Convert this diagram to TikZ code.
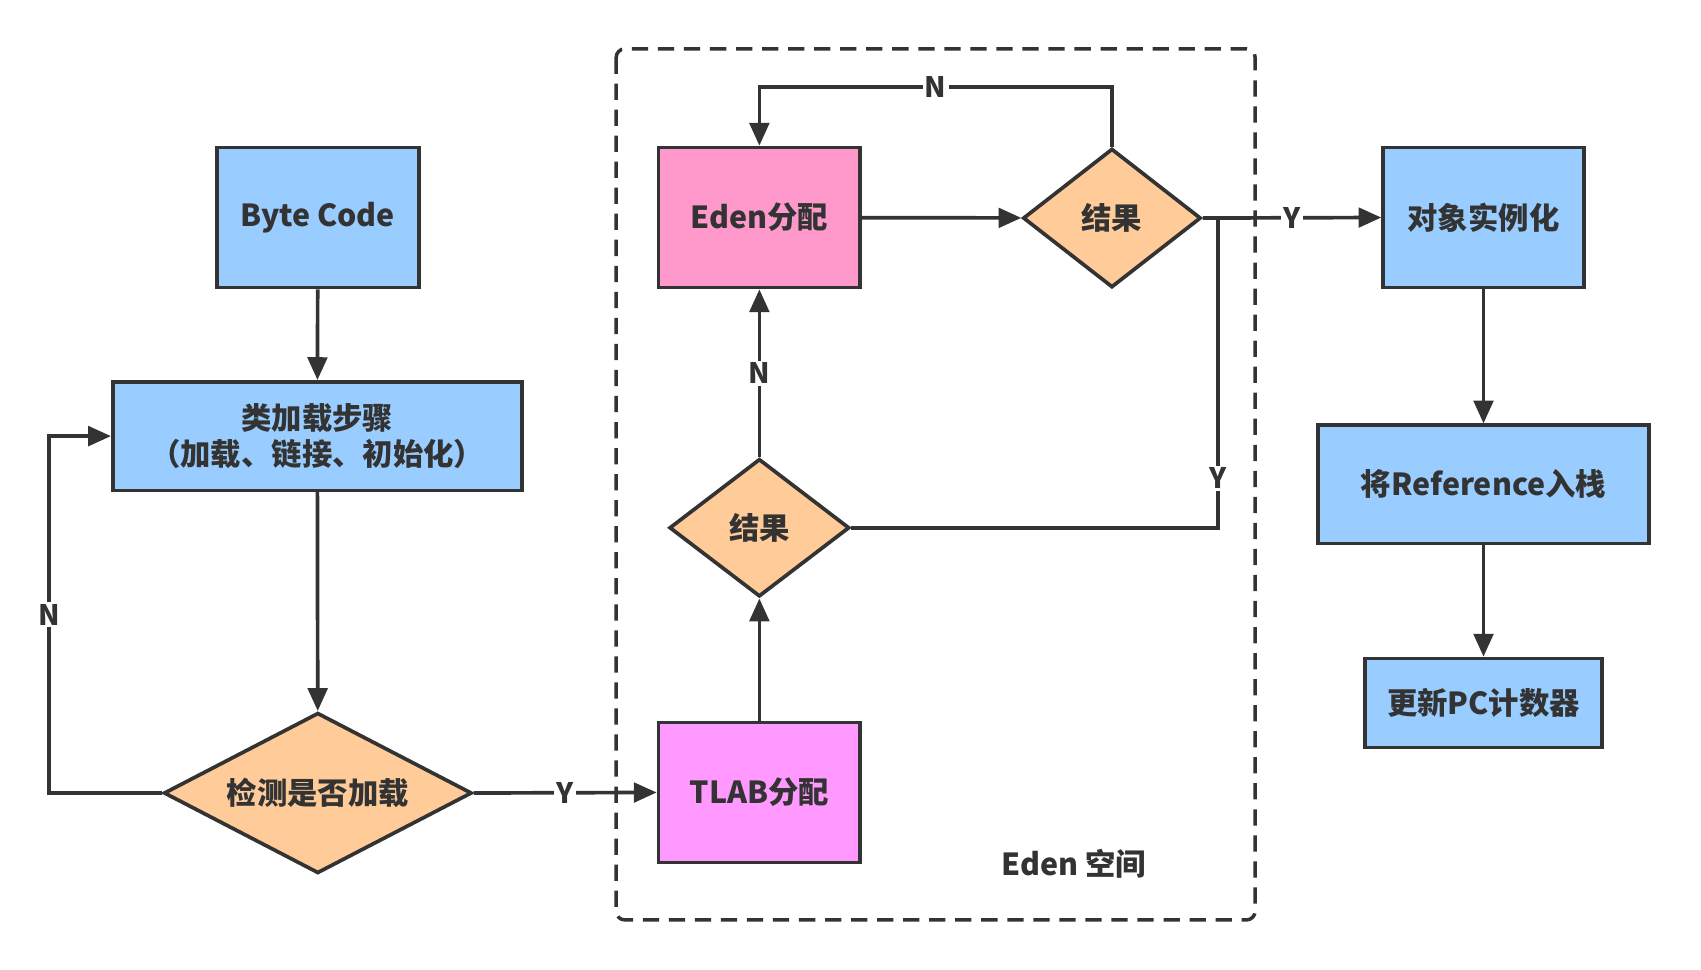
\documentclass[tikz,border=0pt]{standalone}
\usepackage{fontspec}
\setmainfont{Noto Sans CJK SC}
\usetikzlibrary{arrows.meta,shapes.geometric}
\definecolor{ln}{HTML}{333333}
\definecolor{bluefill}{HTML}{99CCFF}
\definecolor{orangefill}{HTML}{FFCC99}
\definecolor{pinkfill}{HTML}{FF99CC}
\definecolor{magfill}{HTML}{FF99FF}
\begin{document}
\begin{tikzpicture}[x=1pt,y=-1pt,
  txt/.style={text=ln,font=\bfseries\fontsize{28}{33}\selectfont},
  box/.style={txt,draw=ln,line width=3.4pt,rectangle,inner sep=0pt,align=center},
  dia/.style={txt,draw=ln,line width=3.4pt,diamond,inner sep=0pt,fill=orangefill},
  arr/.style={draw=ln,line width=3.4pt,-{Triangle[length=21pt,width=18pt]}},
  con/.style={draw=ln,line width=3.4pt},
  lbl/.style={txt,fill=white,inner sep=2pt,font=\bfseries\fontsize{26}{30}\selectfont}
]
\useasboundingbox (0,0) rectangle (1568,894);

% Eden region
\draw[ln,line width=3.2pt,dash pattern=on 15pt off 9pt,rounded corners=8pt] (568,45) rectangle (1157,848);
\node[txt] (edenlbl) at (990,796) {Eden 空间};

% left column
\node[box,fill=bluefill,minimum width=186pt,minimum height=129pt] (bc) at (293,200.5) {Byte Code};
\node[box,fill=bluefill,minimum width=377pt,minimum height=100pt] (load) at (292.5,402) {类加载步骤\\（加载、链接、初始化）};
\node[dia,aspect=1.92,minimum width=284pt,minimum height=148pt] (chk) at (293,731) {检测是否加载};

% middle column
\node[box,fill=magfill,minimum width=186pt,minimum height=129pt] (tlab) at (700,730.5) {TLAB分配};
\node[dia,aspect=1.3,minimum width=166pt,minimum height=127pt] (res2) at (700,486.5) {结果};
\node[box,fill=pinkfill,minimum width=186pt,minimum height=129pt] (eden) at (700,200.5) {Eden分配};
\node[dia,aspect=1.28,minimum width=164pt,minimum height=128pt] (res1) at (1025,201) {结果};

% right column
\node[box,fill=bluefill,minimum width=185pt,minimum height=129pt] (obj) at (1367.5,200.5) {对象实例化};
\node[box,fill=bluefill,minimum width=305pt,minimum height=109pt] (ref) at (1367.5,446.5) {将Reference入栈};
\node[box,fill=bluefill,minimum width=219pt,minimum height=82pt] (pc) at (1367.5,648) {更新PC计数器};

% helper coordinates
\coordinate (nl) at (45,731);
\coordinate (ntop) at (1025,80);
\coordinate (yj) at (1123,201);

% connectors
\draw[arr] (bc) -- (load);
\draw[arr] (load) -- (chk);
\draw[arr] (chk.west) -- (nl) |- node[lbl,pos=0.25]{N} (load.west);
\draw[arr] (chk.east) -- node[lbl]{Y} (tlab.west);
\draw[arr] (tlab) -- (res2);
\draw[arr] (res2) -- node[lbl]{N} (eden);
\draw[arr] (eden) -- (res1);
\draw[arr] (res1.north) -- (ntop) -| node[lbl,pos=0.25]{N} (eden.north);
\draw[arr] (res1.east) -- node[lbl]{Y} (obj.west);
\draw[con] (res2.east) -| node[lbl,pos=0.58]{Y} (yj);
\draw[arr] (obj) -- (ref);
\draw[arr] (ref) -- (pc);
\end{tikzpicture}
\end{document}
